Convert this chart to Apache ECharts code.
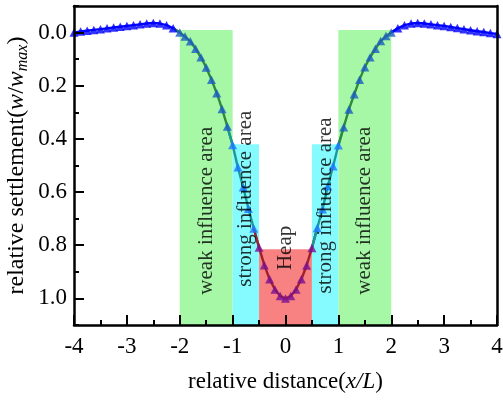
<!DOCTYPE html>
<html>
<head>
<meta charset="utf-8">
<script src="https://cdn.jsdelivr.net/npm/echarts@6/dist/echarts.min.js"></script>
<style>html,body{margin:0;padding:0;background:#fff;}#c{width:503px;height:405px;}</style>
</head>
<body>
<div id="c"></div>
<script>
// ---- data ----
const xTicks = [-4, -3, -2, -1, 0, 1, 2, 3, 4];
const yTicks = [0.0, 0.2, 0.4, 0.6, 0.8, 1.0];

const xOuterL = [-4, -3.875, -3.75, -3.625, -3.5, -3.375, -3.25, -3.125, -3, -2.875, -2.75, -2.625, -2.5, -2.375, -2.25, -2.125];
const wOuterL = [0.0, -0.004, -0.007, -0.010, -0.013, -0.016, -0.019, -0.022, -0.025, -0.028, -0.031, -0.034, -0.036, -0.034, -0.028, -0.016];
const xGreenL = [-2, -1.9, -1.8, -1.7, -1.6, -1.5, -1.4, -1.3, -1.2, -1.1];
const wGreenL = [0.0, 0.015, 0.033, 0.061, 0.093, 0.131, 0.177, 0.228, 0.287, 0.353];
const xCyanL = [-1, -0.9, -0.8, -0.7, -0.6];
const wCyanL = [0.423, 0.507, 0.582, 0.663, 0.737];
const xHeap = [-0.5, -0.4, -0.3, -0.2, -0.1, 0, 0.1, 0.2, 0.3, 0.4, 0.5];
const wHeap = [0.808, 0.875, 0.928, 0.966, 0.991, 1.0, 0.991, 0.966, 0.928, 0.876, 0.81];
const xCyanR = [0.6, 0.7, 0.8, 0.9, 1.0];
const wCyanR = [0.735, 0.665, 0.578, 0.503, 0.424];
const xGreenR = [1.1, 1.2, 1.3, 1.4, 1.5, 1.6, 1.7, 1.8, 1.9, 2.0];
const wGreenR = [0.356, 0.289, 0.232, 0.177, 0.13, 0.093, 0.061, 0.032, 0.013, 0.0];
const xOuterR = [2.125, 2.25, 2.375, 2.5, 2.625, 2.75, 2.875, 3, 3.125, 3.25, 3.375, 3.5, 3.625, 3.75, 3.875, 4];
const wOuterR = [-0.016, -0.028, -0.034, -0.036, -0.034, -0.031, -0.028, -0.025, -0.021, -0.017, -0.013, -0.009, -0.005, -0.002, 0.002, 0.005];

const zoneNames = ['weak influence area', 'strong influence area', 'Heap', 'strong influence area', 'weak influence area'];
const zoneFrom = [-2, -1, -0.5, 0.5, 1];
const zoneTo = [-1, -0.5, 0.5, 1, 2];
const zoneTop = [-0.01, 0.42, 0.815, 0.42, -0.01];
const zoneLabelX = [-1.5, -0.75, 0, 0.75, 1.5];
const zoneLabelY = [0.67, 0.625, 0.81, 0.65, 0.67];

// ---- styles ----
const FONT = '"Liberation Serif", "Times New Roman", serif';
const zoneColors = ['#a6f7a6', '#85fbff', '#f88282', '#85fbff', '#a6f7a6'];
const Y_MIN = -0.1, Y_MAX = 1.1;

const segs = [
  { xs: xOuterL, ws: wOuterL, line: '#0000ff', sym: '#0000ff' },
  { xs: xGreenL, ws: wGreenL, line: '#2e8b3a', sym: '#1a5cc4' },
  { xs: xCyanL, ws: wCyanL, line: '#1a9a9a', sym: '#1a78ff' },
  { xs: xHeap, ws: wHeap, line: '#a0202c', sym: '#7a1092' },
  { xs: xCyanR, ws: wCyanR, line: '#1a9a9a', sym: '#1a78ff' },
  { xs: xGreenR, ws: wGreenR, line: '#2e8b3a', sym: '#1a5cc4' },
  { xs: xOuterR, ws: wOuterR, line: '#0000ff', sym: '#0000ff' }
];

const series = [];
series.push({
  type: 'line', data: [], z: 1, silent: true,
  markArea: {
    silent: true,
    label: { show: false },
    data: zoneFrom.map((f, i) => [
      { xAxis: f, yAxis: zoneTop[i], itemStyle: { color: zoneColors[i], opacity: 1 } },
      { xAxis: zoneTo[i], yAxis: Y_MAX }
    ])
  }
});
segs.forEach((s, k) => {
  const data = [];
  if (k > 0) {
    const p = segs[k - 1];
    data.push([p.xs[p.xs.length - 1], p.ws[p.ws.length - 1]]);
  }
  s.xs.forEach((x, i) => data.push([x, s.ws[i]]));
  if (k < segs.length - 1) {
    const n = segs[k + 1];
    data.push([n.xs[0], n.ws[0]]);
  }
  series.push({
    type: 'line', data: data, z: 3, silent: true, animation: false,
    symbol: 'none',
    lineStyle: { color: s.line, width: 2.4 }
  });
});
segs.forEach((s) => {
  series.push({
    type: 'scatter', z: 4, silent: true, animation: false,
    symbol: 'triangle', symbolSize: [9, 8.5],
    itemStyle: { color: s.sym },
    data: s.xs.map((x, i) => [x, s.ws[i]])
  });
});
series.push({
  type: 'scatter', z: 6, silent: true, animation: false,
  symbolSize: 1, itemStyle: { color: 'rgba(0,0,0,0)' },
  labelLayout: { hideOverlap: false },
  label: {
    show: true, position: 'inside', rotate: 90,
    formatter: p => zoneNames[p.dataIndex],
    fontFamily: FONT, fontSize: 21, color: '#000'
  },
  data: zoneLabelX.map((x, i) => [x, zoneLabelY[i]])
});

const chart = echarts.init(document.getElementById('c'), null, { renderer: 'canvas' });
chart.setOption({
  animation: false,
  backgroundColor: '#fff',
  grid: { left: 74, right: 6, top: 6, bottom: 80, containLabel: false, outerBoundsMode: 'none' },
  xAxis: [
    {
      type: 'value', min: -4, max: 4, interval: 1, z: 10,
      name: 'relative distance({i|x/L})', nameLocation: 'middle', nameGap: 45, nameMoveOverlap: false,
      nameTextStyle: { fontFamily: FONT, fontSize: 23, color: '#000',
        rich: { i: { fontFamily: FONT, fontSize: 23, fontStyle: 'italic', color: '#000' } } },
      axisLine: { onZero: false, lineStyle: { color: '#000', width: 2.5 } },
      axisTick: { inside: true, length: 10, lineStyle: { color: '#000', width: 2 } },
      minorTick: { show: true, splitNumber: 2, length: 5, lineStyle: { color: '#000', width: 2 } },
      axisLabel: { fontFamily: FONT, fontSize: 23, color: '#000', margin: 10,
        customValues: xTicks, formatter: v => String(v) },
      splitLine: { show: false }
    },
    {
      type: 'value', min: -4, max: 4, position: 'top', z: 10,
      axisLine: { onZero: false, lineStyle: { color: '#000', width: 2.5 } },
      axisTick: { show: false }, axisLabel: { show: false }, splitLine: { show: false }
    }
  ],
  yAxis: [
    {
      type: 'value', min: Y_MIN, max: Y_MAX, inverse: true, z: 10,
      name: 'relative settlement({i|w}/{i|w}{sub|max})', nameLocation: 'middle', nameGap: 43, nameRotate: 90,
      nameMoveOverlap: false,
      nameTextStyle: { fontFamily: FONT, fontSize: 24, color: '#000',
        rich: {
          i: { fontFamily: FONT, fontSize: 24, fontStyle: 'italic', color: '#000' },
          sub: { fontFamily: FONT, fontSize: 16, fontStyle: 'italic', color: '#000', padding: [12, 0, 0, 0] }
        } },
      axisLine: { onZero: false, lineStyle: { color: '#000', width: 2.5 } },
      axisTick: { inside: true, length: 10, customValues: yTicks, lineStyle: { color: '#000', width: 2 } },
      axisLabel: { fontFamily: FONT, fontSize: 23, color: '#000', margin: 7,
        customValues: yTicks, formatter: v => v.toFixed(1) },
      splitLine: { show: false }
    },
    {
      type: 'value', min: Y_MIN, max: Y_MAX, interval: 0.2, inverse: true, position: 'left', z: 10,
      axisLine: { show: false, onZero: false },
      axisTick: { inside: true, length: 5, lineStyle: { color: '#000', width: 2 } },
      axisLabel: { show: false }, splitLine: { show: false }
    },
    {
      type: 'value', min: Y_MIN, max: Y_MAX, inverse: true, position: 'right', z: 10,
      axisLine: { onZero: false, lineStyle: { color: '#000', width: 2.5 } },
      axisTick: { show: false }, axisLabel: { show: false }, splitLine: { show: false }
    }
  ],
  series: series
});
</script>
</body>
</html>
